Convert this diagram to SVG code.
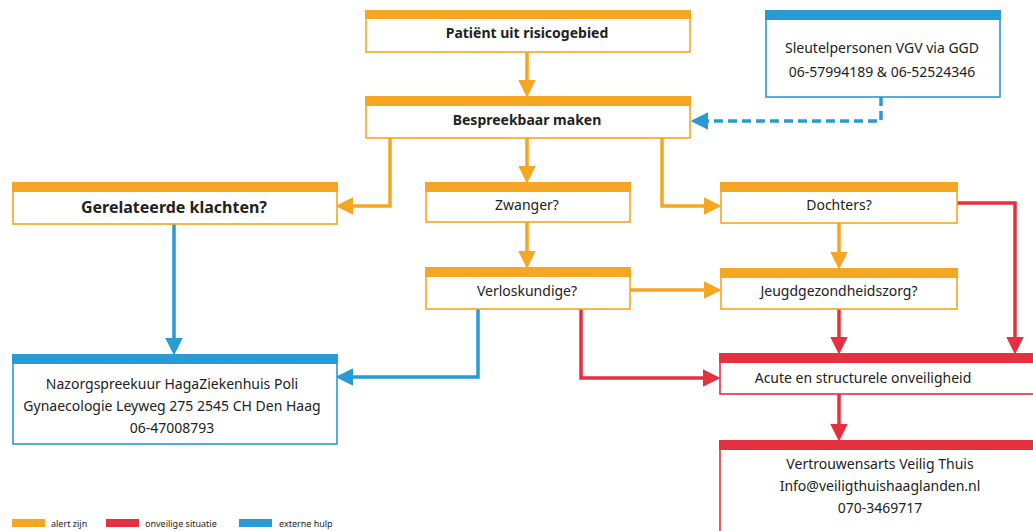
<svg xmlns="http://www.w3.org/2000/svg" width="1033" height="531" viewBox="0 0 1033 531">
<style>
text{font-family:"Noto Sans","Open Sans",sans-serif;font-size:14px;fill:#222;text-anchor:middle}
.b{font-weight:bold}
.box{fill:#fff;stroke-width:1.6}
.o{stroke:#F5A623}.r{stroke:#E4303F}.bl{stroke:#2A9AD5}
.fo{fill:#F5A623}.fr{fill:#E4303F}.fb{fill:#2A9AD5}
.c{fill:none;stroke-width:3.5}
.lg{font-size:9px;text-anchor:start}
</style>
<defs>
<marker id="ao" markerWidth="5" markerHeight="5" refX="4" refY="2.5" orient="auto" markerUnits="strokeWidth"><path d="M0,0L5,2.5L0,5z" fill="#F5A623"/></marker>
<marker id="ar" markerWidth="5" markerHeight="5" refX="4" refY="2.5" orient="auto" markerUnits="strokeWidth"><path d="M0,0L5,2.5L0,5z" fill="#E4303F"/></marker>
<marker id="ab" markerWidth="5" markerHeight="5" refX="4" refY="2.5" orient="auto" markerUnits="strokeWidth"><path d="M0,0L5,2.5L0,5z" fill="#2A9AD5"/></marker>
</defs>
<rect width="1033" height="531" fill="#fff"/>
<g id="connectors">
<path class="c o" d="M527,52V94" marker-end="url(#ao)"/>
<path class="c bl" d="M881,97V121H694" stroke-dasharray="9,5" marker-end="url(#ab)"/>
<path class="c o" d="M390,138V206H339" marker-end="url(#ao)"/>
<path class="c o" d="M527,138V180" marker-end="url(#ao)"/>
<path class="c o" d="M662,138V206H718" marker-end="url(#ao)"/>
<path class="c o" d="M527,222V265" marker-end="url(#ao)"/>
<path class="c o" d="M630,290H718" marker-end="url(#ao)"/>
<path class="c o" d="M839,223V266" marker-end="url(#ao)"/>
<path class="c bl" d="M174,224V352" marker-end="url(#ab)"/>
<path class="c bl" d="M478,309V377H339" marker-end="url(#ab)"/>
<path class="c r" d="M581,309V378H717" marker-end="url(#ar)"/>
<path class="c r" d="M839,309V351" marker-end="url(#ar)"/>
<path class="c r" d="M957,203H1015V351" marker-end="url(#ar)"/>
<path class="c r" d="M839,394V438" marker-end="url(#ar)"/>
</g>
<g id="n-patient">
<rect class="box o" x="366" y="11" width="324" height="41"/>
<rect class="fo" x="365" y="10" width="326" height="9"/>
<text class="b" x="527" y="38">Patiënt uit risicogebied</text>
</g>
<g id="n-bespreekbaar">
<rect class="box o" x="366" y="97" width="324" height="41"/>
<rect class="fo" x="365" y="96" width="326" height="10"/>
<text class="b" x="527" y="125">Bespreekbaar maken</text>
</g>
<g id="n-sleutel">
<rect class="box bl" x="766" y="11" width="234" height="86"/>
<rect class="fb" x="765" y="10" width="236" height="10"/>
<text x="882" y="53">Sleutelpersonen VGV via GGD</text>
<text x="882" y="77">06-57994189 &amp; 06-52524346</text>
</g>
<g id="n-gerelateerde">
<rect class="box o" x="13" y="183" width="324" height="41"/>
<rect class="fo" x="12" y="182" width="326" height="10"/>
<text class="b" x="174" y="213" style="font-size:16px">Gerelateerde klachten?</text>
</g>
<g id="n-zwanger">
<rect class="box o" x="426" y="183" width="204" height="39"/>
<rect class="fo" x="425" y="182" width="206" height="10"/>
<text x="527" y="210">Zwanger?</text>
</g>
<g id="n-dochters">
<rect class="box o" x="721" y="183" width="236" height="40"/>
<rect class="fo" x="720" y="182" width="238" height="10"/>
<text x="839" y="210">Dochters?</text>
</g>
<g id="n-verloskundige">
<rect class="box o" x="426" y="268" width="204" height="41"/>
<rect class="fo" x="425" y="267" width="206" height="10"/>
<text x="527" y="296">Verloskundige?</text>
</g>
<g id="n-jeugd">
<rect class="box o" x="721" y="269" width="236" height="40"/>
<rect class="fo" x="720" y="268" width="238" height="10"/>
<text x="839" y="296">Jeugdgezondheidszorg?</text>
</g>
<g id="n-nazorg">
<rect class="box bl" x="13" y="355" width="324" height="89"/>
<rect class="fb" x="12" y="354" width="326" height="10"/>
<text x="172" y="389">Nazorgspreekuur HagaZiekenhuis Poli</text>
<text x="172" y="411">Gynaecologie Leyweg 275 2545 CH Den Haag</text>
<text x="172" y="433">06-47008793</text>
</g>
<g id="n-acute">
<rect class="box r" x="720" y="354" width="320" height="40"/>
<rect class="fr" x="719" y="353" width="314" height="10"/>
<text x="863" y="383">Acute en structurele onveiligheid</text>
</g>
<g id="n-vertrouwens">
<rect class="box r" x="720" y="441" width="320" height="100"/>
<rect class="fr" x="719" y="440" width="314" height="10"/>
<text x="880" y="469">Vertrouwensarts Veilig Thuis</text>
<text x="880" y="491">Info@veiligthuishaaglanden.nl</text>
<text x="880" y="513">070-3469717</text>
</g>
<g id="legend">
<rect class="fo" x="12" y="519" width="33" height="8"/>
<text class="lg" x="51" y="527">alert zijn</text>
<rect class="fr" x="106" y="519" width="33" height="8"/>
<text class="lg" x="145" y="527">onveilige situatie</text>
<rect class="fb" x="239" y="519" width="33" height="8"/>
<text class="lg" x="279" y="527">externe hulp</text>
</g>
</svg>
